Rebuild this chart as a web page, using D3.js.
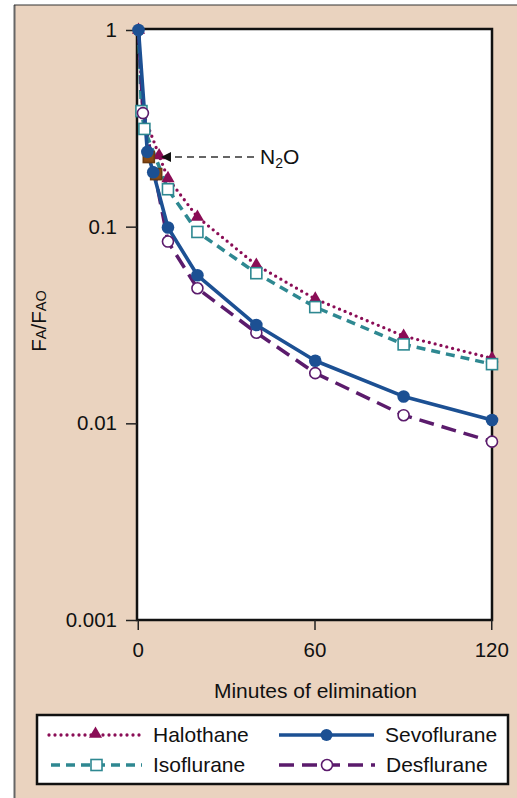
<!DOCTYPE html>
<html>
<head>
<meta charset="utf-8">
<script src="https://cdn.jsdelivr.net/npm/d3@7"></script>
<style>
  html, body { margin: 0; padding: 0; background: #ffffff; }
  svg { display: block; font-family: "Liberation Sans", Arial, Helvetica, sans-serif; }
</style>
</head>
<body>
<svg id="chart" width="517" height="798"></svg>
<script>
// ---- Data ----
const halothaneTime = [0, 1.5, 7, 10, 20, 40, 60, 90, 120];
const halothaneValue = [1, 0.38, 0.23, 0.176, 0.112, 0.0638, 0.0429, 0.0278, 0.0214];
const halothaneMarked = [true, false, true, true, true, true, true, true, true];

const sevofluraneTime = [0, 3, 5, 10, 20, 40, 60, 90, 120];
const sevofluraneValue = [1, 0.24, 0.189, 0.099, 0.0566, 0.0316, 0.0208, 0.0137, 0.0104];

const isofluraneTime = [0, 1, 2, 10, 20, 40, 60, 90, 120];
const isofluraneValue = [1, 0.387, 0.314, 0.155, 0.094, 0.058, 0.039, 0.0252, 0.0200];
const isofluraneMarked = [false, true, true, true, true, true, true, true, true];

const desfluraneTime = [0, 1.5, 10, 20, 40, 60, 90, 120];
const desfluraneValue = [1, 0.378, 0.084, 0.0486, 0.0289, 0.0180, 0.0110, 0.00807];
const desfluraneMarked = [false, true, true, true, true, true, true, true];

const n2oTime = [3.5, 6];
const n2oValue = [0.226, 0.185];

const xTicks = [0, 60, 120];
const yTicks = [1, 0.1, 0.01, 0.001];
const yTickLabels = ["1", "0.1", "0.01", "0.001"];

const legendNames = ["Halothane", "Sevoflurane", "Isoflurane", "Desflurane"];

(function () {
// ---- Styles ----
const C = {
  bg: "#ead3bf",
  halo: "#8a0d56",
  sevo: "#1c5093",
  iso: "#2e8891",
  des: "#5b1b6c",
  n2o: "#8a4a12"
};

const svg = d3.select("#chart");

// Beige panel
svg.append("rect").attr("x", 14).attr("y", 5).attr("width", 520).attr("height", 800)
  .attr("fill", C.bg);
svg.append("line").attr("x1", 14.5).attr("x2", 14.5).attr("y1", 5).attr("y2", 798)
  .attr("stroke", "#666").attr("stroke-width", 2);
svg.append("line").attr("x1", 14).attr("x2", 517).attr("y1", 5).attr("y2", 5)
  .attr("stroke", "#333").attr("stroke-width", 1.2);

const pLeft = 137, pRight = 492, pTop = 30, pBottom = 620;
const x = d3.scaleLinear().domain([0, 120]).range([pLeft + 1.5, pRight]);
const y = d3.scaleLog().domain([0.001, 1]).range([pBottom, pTop]);

// Plot area + frame
svg.append("rect").attr("x", pLeft).attr("y", pTop - 1).attr("width", pRight - pLeft).attr("height", pBottom - pTop + 1)
  .attr("fill", "#ffffff").attr("stroke", "#111").attr("stroke-width", 2.5);

// Axes
const yAxis = d3.axisLeft(y).tickValues(yTicks).tickFormat((d, i) => yTickLabels[i])
  .tickSize(11).tickPadding(9);
const gy = svg.append("g").attr("transform", `translate(${pLeft},0)`).call(yAxis);
gy.select(".domain").remove();
gy.selectAll(".tick line").attr("stroke", "#222").attr("stroke-width", 1.5);
gy.selectAll(".tick text").attr("font-size", 20.5).attr("fill", "#111")
  .attr("font-family", "Liberation Sans, Arial, sans-serif");

const xAxis = d3.axisBottom(x).tickValues(xTicks).tickFormat(d3.format("d"))
  .tickSize(10).tickPadding(12);
const gx = svg.append("g").attr("transform", `translate(-0.75,${pBottom})`).call(xAxis);
gx.select(".domain").remove();
gx.selectAll(".tick line").attr("stroke", "#222").attr("stroke-width", 1.5);
gx.selectAll(".tick text").attr("font-size", 20.5).attr("fill", "#111")
  .attr("font-family", "Liberation Sans, Arial, sans-serif");

// Axis titles
svg.append("text").attr("x", 315.5).attr("y", 698).attr("text-anchor", "middle")
  .attr("font-size", 21).attr("fill", "#111").text("Minutes of elimination");

const yl = svg.append("text").attr("transform", "translate(46,321) rotate(-90)")
  .attr("text-anchor", "middle").attr("fill", "#111");
yl.append("tspan").attr("font-size", 20.5).text("F");
yl.append("tspan").attr("font-size", 14.5).text("A");
yl.append("tspan").attr("font-size", 20.5).text("/F");
yl.append("tspan").attr("font-size", 14.5).text("AO");

// Lines
const line = d3.line().x(d => x(d[0])).y(d => y(d[1]));
const zipped = (t, v) => t.map((tt, i) => [tt, v[i]]);

const haloData = zipped(halothaneTime, halothaneValue);
const sevoData = zipped(sevofluraneTime, sevofluraneValue);
const isoData = zipped(isofluraneTime, isofluraneValue);
const desData = zipped(desfluraneTime, desfluraneValue);
const n2oData = zipped(n2oTime, n2oValue);

const lineG = svg.append("g");

const styles = {
  halo: { stroke: C.halo, width: 3.3, dash: "0,6", cap: "round" },
  iso: { stroke: C.iso, width: 3.5, dash: "9,6", cap: "butt" },
  des: { stroke: C.des, width: 3.5, dash: "15,8", cap: "butt" },
  sevo: { stroke: C.sevo, width: 3.6, dash: null, cap: "butt" }
};

function drawLine(data, st) {
  const p = lineG.append("path").datum(data).attr("d", line).attr("fill", "none")
    .attr("stroke", st.stroke).attr("stroke-width", st.width)
    .attr("stroke-linecap", st.cap).attr("stroke-linejoin", "round");
  if (st.dash) p.attr("stroke-dasharray", st.dash);
}
drawLine(haloData, styles.halo);
drawLine(isoData, styles.iso);
drawLine(desData, styles.des);
drawLine(sevoData, styles.sevo);

// Markers
const triangle = d3.symbol().type(d3.symbolTriangle).size(75);
function triMarks(g, data) {
  g.selectAll(null).data(data).enter().append("path")
    .attr("d", triangle).attr("transform", d => `translate(${x(d[0])},${y(d[1])})`)
    .attr("fill", C.halo);
}
function squareMarks(g, data, fill, stroke) {
  g.selectAll(null).data(data).enter().append("rect")
    .attr("x", d => x(d[0]) - 5.5).attr("y", d => y(d[1]) - 5.5)
    .attr("width", 11).attr("height", 11)
    .attr("fill", fill).attr("stroke", stroke).attr("stroke-width", 1.6);
}
function circleMarks(g, data, r, fill, stroke, sw) {
  g.selectAll(null).data(data).enter().append("circle")
    .attr("cx", d => x(d[0])).attr("cy", d => y(d[1])).attr("r", r)
    .attr("fill", fill).attr("stroke", stroke).attr("stroke-width", sw);
}
const mg = svg.append("g");
triMarks(mg, haloData.filter((d, i) => halothaneMarked[i]));
squareMarks(mg, isoData.filter((d, i) => isofluraneMarked[i]), "#ffffff", C.iso);
squareMarks(mg, n2oData, C.n2o, "#6b3a10");
circleMarks(mg, desData.filter((d, i) => desfluraneMarked[i]), 5.5, "#ffffff", C.des, 1.6);
circleMarks(mg, sevoData, 6.3, C.sevo, C.sevo, 0);

// N2O annotation
const arrowY = y(n2oValue[0]);
svg.append("line").attr("x1", 254).attr("x2", 170).attr("y1", arrowY).attr("y2", arrowY)
  .attr("stroke", "#333").attr("stroke-width", 1.6).attr("stroke-dasharray", "7,5");
svg.append("path")
  .attr("d", `M161,${arrowY} L171,${arrowY - 5} L171,${arrowY + 5} Z`).attr("fill", "#111");
const nt = svg.append("text").attr("x", 260).attr("y", arrowY + 7).attr("fill", "#111");
nt.append("tspan").attr("font-size", 21).text("N");
nt.append("tspan").attr("font-size", 14).attr("dy", 4).text("2");
nt.append("tspan").attr("font-size", 21).attr("dy", -4).text("O");

// Legend
const lg = svg.append("g");
lg.append("rect").attr("x", 37).attr("y", 715).attr("width", 471).attr("height", 69)
  .attr("fill", "#ffffff").attr("stroke", "#111").attr("stroke-width", 2.5);

const legendItems = [
  { name: legendNames[0], st: styles.halo, x1: 49, x2: 142, ly: 735, mark: "tri" },
  { name: legendNames[1], st: styles.sevo, x1: 279, x2: 374, ly: 735, mark: "sevo" },
  { name: legendNames[2], st: styles.iso, x1: 51, x2: 142, ly: 765, mark: "iso" },
  { name: legendNames[3], st: styles.des, x1: 279, x2: 375, ly: 765, mark: "des" }
];
legendItems.forEach(it => {
  const l = lg.append("line").attr("x1", it.x1).attr("x2", it.x2).attr("y1", it.ly).attr("y2", it.ly)
    .attr("stroke", it.st.stroke).attr("stroke-width", it.st.width).attr("stroke-linecap", it.st.cap);
  if (it.st.dash) l.attr("stroke-dasharray", it.st.dash);
  const mx = (it.x1 + it.x2) / 2;
  if (it.mark === "tri") {
    lg.append("path").attr("d", triangle).attr("transform", `translate(${mx},${it.ly - 1})`).attr("fill", C.halo);
  } else if (it.mark === "sevo") {
    lg.append("circle").attr("cx", mx).attr("cy", it.ly).attr("r", 6).attr("fill", C.sevo);
  } else if (it.mark === "iso") {
    lg.append("rect").attr("x", mx - 5.5).attr("y", it.ly - 5.5).attr("width", 11).attr("height", 11)
      .attr("fill", "#fff").attr("stroke", C.iso).attr("stroke-width", 1.6);
  } else {
    lg.append("circle").attr("cx", mx).attr("cy", it.ly).attr("r", 5.5).attr("fill", "#fff")
      .attr("stroke", C.des).attr("stroke-width", 1.6);
  }
  lg.append("text").attr("x", it.x2 + 11).attr("y", it.ly + 7).attr("font-size", 21)
    .attr("fill", "#111").text(it.name);
});
})();
</script>
</body>
</html>
